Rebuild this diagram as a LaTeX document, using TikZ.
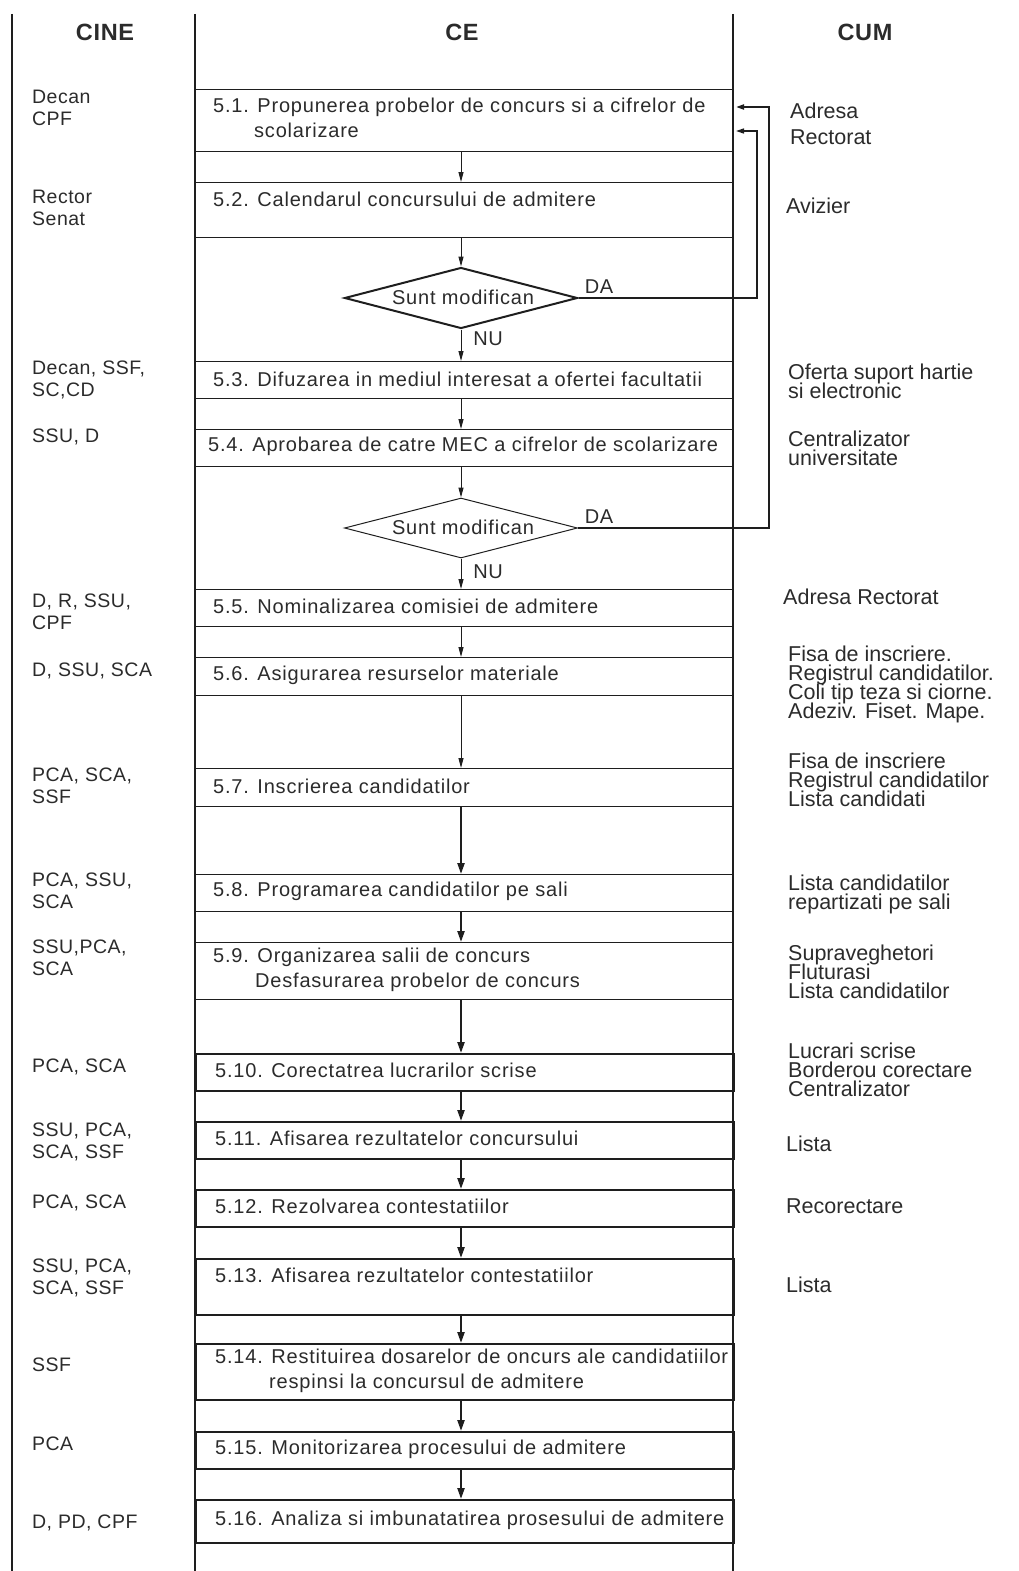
\documentclass[tikz,border=0pt]{standalone}
\usepackage{fontspec}
\setmainfont{Liberation Sans}
\newfontfamily\boxfont[LetterSpace=4]{Liberation Sans}
\newfontfamily\cinefont[LetterSpace=2.5]{Liberation Sans}
\newfontfamily\headfont[LetterSpace=3]{Liberation Sans}
\usetikzlibrary{arrows.meta,shapes.geometric}
\definecolor{ink}{HTML}{1E1E1E}
\definecolor{txt}{HTML}{2B2B2B}
\begin{document}
\lineskiplimit=-100pt\relax
\begin{tikzpicture}[x=1pt,y=-1pt,
  col/.style={draw=ink, line width=1.3pt},
  stepbox/.style={rectangle, draw=ink, line width=1.4pt, minimum width=538pt, inner sep=0pt, anchor=north west},
  steptxt/.style={anchor=west, align=left, inner sep=0pt, text=txt, font=\boxfont\fontsize{20}{24.5}\selectfont},
  whotxt/.style={anchor=west, align=left, inner sep=0pt, text=txt, font=\cinefont\fontsize{19.5}{22}\selectfont},
  howtxt/.style={anchor=west, align=left, inner sep=0pt, text=txt, font=\fontsize{21.5}{19}\selectfont},
  headtxt/.style={inner sep=0pt, text=txt, font=\headfont\bfseries\fontsize{23.5}{26}\selectfont},
  decision/.style={diamond, draw=ink, aspect=3.8, minimum width=233pt, minimum height=61pt, inner sep=0pt},
  dtxt/.style={inner sep=0pt, text=txt, font=\boxfont\fontsize{20}{22}\selectfont},
  lbl/.style={inner sep=0pt, text=txt, font=\cinefont\fontsize{20}{22}\selectfont},
  arr/.style={draw=ink, line width=1pt, -{Triangle[length=10pt,width=5pt]}},
  arrb/.style={draw=ink, line width=2.2pt, -{Triangle[length=11pt,width=7pt]}},
  fb/.style={draw=ink, line width=1.5pt, -{Triangle[length=8pt,width=5pt]}}
]
\useasboundingbox (0,0) rectangle (1019,1571);

% column lines
\draw[col] (12,14) -- (12,1571);
\draw[col] (195,14) -- (195,1571);
\draw[col] (733,14) -- (733,1571);

% headers
\node[headtxt] (hcine) at (105,32) {CINE};
\node[headtxt] (hce) at (462,32) {CE};
\node[headtxt] (hcum) at (865,32) {CUM};

% step boxes
\node[stepbox, minimum height=62pt] (s1) at (195,89) {};
\node[stepbox, minimum height=55pt] (s2) at (195,182) {};
\node[stepbox, minimum height=37pt] (s3) at (195,361) {};
\node[stepbox, minimum height=37pt] (s4) at (195,429) {};
\node[stepbox, minimum height=37pt] (s5) at (195,589) {};
\node[stepbox, minimum height=38pt] (s6) at (195,657) {};
\node[stepbox, minimum height=38pt] (s7) at (195,768) {};
\node[stepbox, minimum height=37pt] (s8) at (195,874) {};
\node[stepbox, minimum height=57pt] (s9) at (195,942) {};
\node[stepbox, line width=1.6pt, minimum height=37pt] (s10) at (195,1053) {};
\node[stepbox, line width=1.6pt, minimum height=37pt] (s11) at (195,1121) {};
\node[stepbox, line width=1.6pt, minimum height=37pt] (s12) at (195,1189) {};
\node[stepbox, line width=1.6pt, minimum height=56pt] (s13) at (195,1258) {};
\node[stepbox, line width=1.6pt, minimum height=56pt] (s14) at (195,1343) {};
\node[stepbox, line width=1.6pt, minimum height=37pt] (s15) at (195,1431) {};
\node[stepbox, line width=1.6pt, minimum height=43pt] (s16) at (195,1499) {};

% decisions
\node[decision, line width=2pt] (d1) at (461,298) {};
\node[dtxt] (d1t) at (463,297) {Sunt modifican};
\node[decision, line width=1pt, minimum height=60pt] (d2) at (461,528) {};
\node[dtxt] (d2t) at (463,527) {Sunt modifican};

% step texts
\node[steptxt] (t1) at (213,118) {5.1. Propunerea probelor de concurs si a cifrelor de\\\hspace*{41pt}scolarizare};
\node[steptxt] (t2) at (213,199) {5.2. Calendarul concursului de admitere};
\node[steptxt] (t3) at (213,379) {5.3. Difuzarea in mediul interesat a ofertei facultatii};
\node[steptxt] (t4) at (208,446) {5.4. Aprobarea de catre MEC a cifrelor de scolarizare};
\node[steptxt] (t5) at (213,606) {5.5. Nominalizarea comisiei de admitere};
\node[steptxt] (t6) at (213,675) {5.6. Asigurarea resurselor materiale};
\node[steptxt] (t7) at (213,786) {5.7. Inscrierea candidatilor};
\node[steptxt] (t8) at (213,891) {5.8. Programarea candidatilor pe sali};
\node[steptxt] (t9) at (213,970) {5.9. Organizarea salii de concurs\\\hspace*{42pt}Desfasurarea probelor de concurs};
\node[steptxt] (t10) at (215,1070) {5.10. Corectatrea lucrarilor scrise};
\node[steptxt] (t11) at (215,1138) {5.11. Afisarea rezultatelor concursului};
\node[steptxt] (t12) at (215,1206) {5.12. Rezolvarea contestatiilor};
\node[steptxt] (t13) at (215,1275) {5.13. Afisarea rezultatelor contestatiilor};
\node[steptxt] (t14) at (215,1371) {5.14. Restituirea dosarelor de oncurs ale candidatiilor\\\hspace*{54pt}respinsi la concursul de admitere};
\node[steptxt] (t15) at (215,1449) {5.15. Monitorizarea procesului de admitere};
\node[steptxt] (t16) at (215,1520) {5.16. Analiza si imbunatatirea prosesului de admitere};

% CINE texts
\node[whotxt] (w1) at (32,108) {Decan\\CPF};
\node[whotxt] (w2) at (32,208) {Rector\\Senat};
\node[whotxt] (w3) at (32,380) {Decan, SSF,\\SC,CD};
\node[whotxt] (w4) at (32,437) {SSU, D};
\node[whotxt] (w5) at (32,612) {D, R, SSU,\\CPF};
\node[whotxt] (w6) at (32,671) {D, SSU, SCA};
\node[whotxt] (w7) at (32,786) {PCA, SCA,\\SSF};
\node[whotxt] (w8) at (32,891) {PCA, SSU,\\SCA};
\node[whotxt] (w9) at (32,958) {SSU,PCA,\\SCA};
\node[whotxt] (w10) at (32,1067) {PCA, SCA};
\node[whotxt] (w11) at (32,1142) {SSU, PCA,\\SCA, SSF};
\node[whotxt] (w12) at (32,1203) {PCA, SCA};
\node[whotxt] (w13) at (32,1278) {SSU, PCA,\\SCA, SSF};
\node[whotxt] (w14) at (32,1365) {SSF};
\node[whotxt] (w15) at (32,1444) {PCA};
\node[whotxt] (w16) at (32,1523) {D, PD, CPF};

% CUM texts
\node[howtxt, font=\fontsize{21.5}{26}\selectfont] (h1) at (790,124) {Adresa\\Rectorat};
\node[howtxt] (h2) at (786,206) {Avizier};
\node[howtxt] (h3) at (788,381) {Oferta suport hartie\\si electronic};
\node[howtxt] (h4) at (788,448) {Centralizator\\universitate};
\node[howtxt] (h5) at (783,597) {Adresa Rectorat};
\node[howtxt] (h6) at (788,684) {Fisa de inscriere.\\Registrul candidatilor.\\Coli tip teza si ciorne.\\Adeziv. Fiset. Mape.};
\node[howtxt] (h7) at (788,780) {Fisa de inscriere\\Registrul candidatilor\\Lista candidati};
\node[howtxt] (h8) at (788,894) {Lista candidatilor\\repartizati pe sali};
\node[howtxt] (h9) at (788,972) {Supraveghetori\\Fluturasi\\Lista candidatilor};
\node[howtxt] (h10) at (788,1070) {Lucrari scrise\\Borderou corectare\\Centralizator};
\node[howtxt] (h11) at (786,1144) {Lista};
\node[howtxt] (h12) at (786,1206) {Recorectare};
\node[howtxt] (h13) at (786,1285) {Lista};

% flow arrows
\coordinate (ax) at (461,0);
\draw[arr] (s1.south -| ax) -- (s2.north -| ax);
\draw[arr] (s2.south -| ax) -- (d1.north);
\draw[arr] (d1.south) -- (s3.north -| ax);
\draw[arr] (s3.south -| ax) -- (s4.north -| ax);
\draw[arr] (s4.south -| ax) -- (d2.north);
\draw[arr] (d2.south) -- (s5.north -| ax);
\draw[arr] (s5.south -| ax) -- (s6.north -| ax);
\draw[arr] (s6.south -| ax) -- (s7.north -| ax);
\draw[arrb] (s7.south -| ax) -- (s8.north -| ax);
\draw[arrb] (s8.south -| ax) -- (s9.north -| ax);
\draw[arrb] (s9.south -| ax) -- (s10.north -| ax);
\draw[arrb] (s10.south -| ax) -- (s11.north -| ax);
\draw[arrb] (s11.south -| ax) -- (s12.north -| ax);
\draw[arrb] (s12.south -| ax) -- (s13.north -| ax);
\draw[arrb] (s13.south -| ax) -- (s14.north -| ax);
\draw[arrb] (s14.south -| ax) -- (s15.north -| ax);
\draw[arrb] (s15.south -| ax) -- (s16.north -| ax);

% DA / NU labels
\node[lbl] (da1) at (599,287) {DA};
\node[lbl] (nu1) at (488,339) {NU};
\node[lbl] (da2) at (599,517) {DA};
\node[lbl] (nu2) at (488,572) {NU};

% feedback loops
\coordinate (in1) at (736,107);
\coordinate (in2) at (736,131);
\draw[fb, line width=1.9pt] (d2.east) -| (769,107) -- (in1);
\draw[fb] (d1.east) -| (757,131) -- (in2);
\end{tikzpicture}
\end{document}
